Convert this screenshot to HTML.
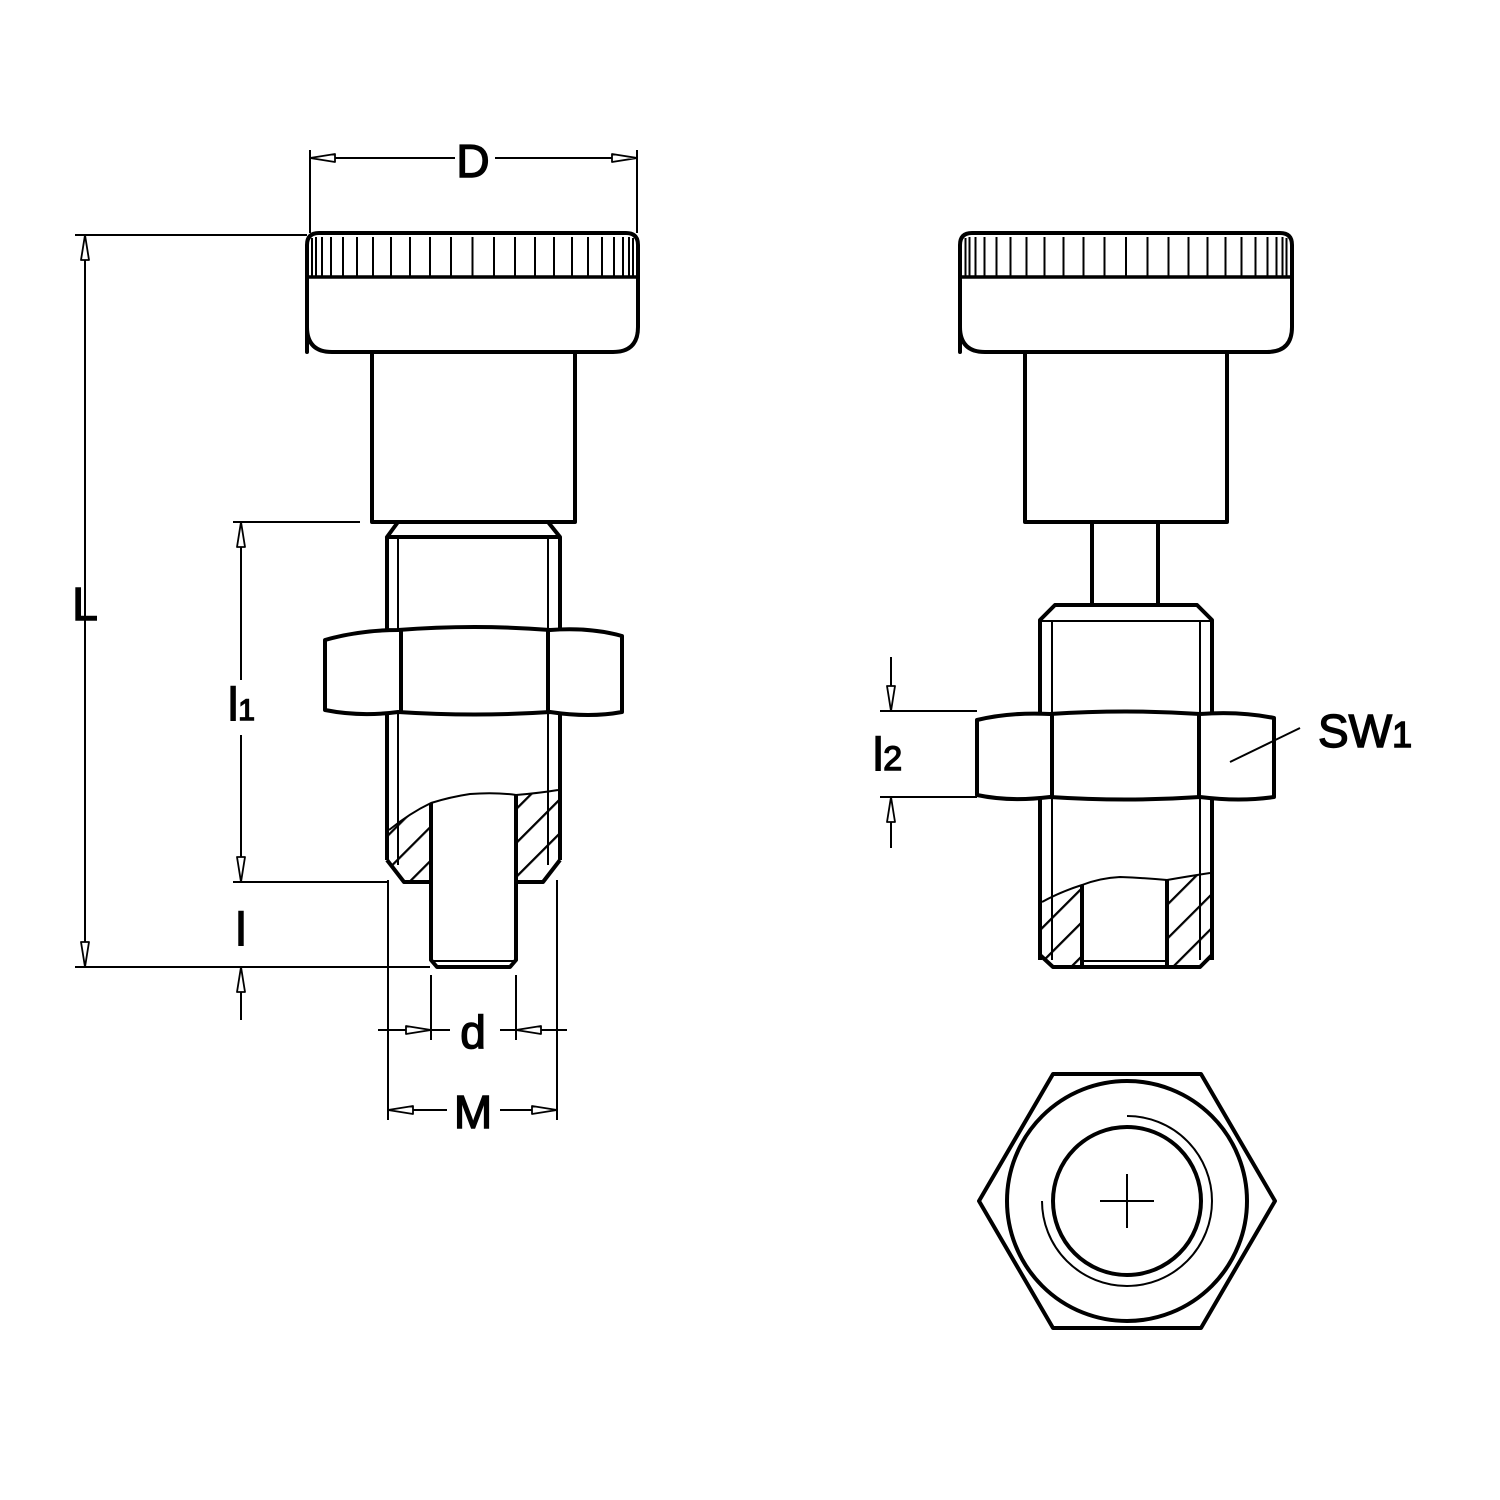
<!DOCTYPE html>
<html><head><meta charset="utf-8"><style>
html,body{margin:0;padding:0;background:#fff}
svg{display:block}
text{font-family:"Liberation Sans",sans-serif;fill:#000;stroke:#000;stroke-width:1.4}
</style></head><body>
<svg width="1500" height="1500" viewBox="0 0 1500 1500" xmlns="http://www.w3.org/2000/svg">
<defs>
<pattern id="h" width="24" height="24" patternUnits="userSpaceOnUse" patternTransform="rotate(45)">
<line x1="1" y1="0" x2="1" y2="24" stroke="#000" stroke-width="2.5"/>
</pattern>
</defs>
<g fill="none" stroke="#000" stroke-linejoin="round">
<!-- LEFT VIEW -->
<path d="M307 352 V245 Q307 233 319 233 H626 Q638 233 638 245 V327 Q638 352 613 352 H332 Q307 352 307 327 Z" stroke-width="4"/>
<line x1="309" y1="277" x2="636" y2="277" stroke-width="3.5"/>
<g stroke-width="2">
<path d="M312 238V277M316 237V277M322 237V277M331 237V277M343 237V277M357 237V277M373 237V277M391 237V277M410 237V277M430 237V277M451 237V277M472.5 237V277M494 237V277M515 237V277M535 237V277M554 237V277M572 237V277M588 237V277M602 237V277M614 237V277M623 237V277M629 237V277M633 238V277"/>
</g>
<rect x="372" y="352" width="203" height="170" stroke-width="4"/>
<path d="M398 522 L387 537 H560 L548 522" stroke-width="4"/>
<line x1="387" y1="537" x2="387" y2="860" stroke-width="4"/>
<line x1="560" y1="537" x2="560" y2="860" stroke-width="4"/>
<line x1="398" y1="537" x2="398" y2="865" stroke-width="2"/>
<line x1="548" y1="537" x2="548" y2="865" stroke-width="2"/>
<path d="M387 860 L404 882 H431 M516 882 H543 L560 860" stroke-width="4"/>
<path d="M389 830 Q410 813 431 803 V882 H404 L389 862 Z" fill="url(#h)" stroke="none"/>
<path d="M516 795 Q540 793 558 790 V862 L543 882 H516 Z" fill="url(#h)" stroke="none"/>
<path d="M389 830 Q410 813 431 803 Q450 797 470 794 Q495 792 516 795 Q540 793 558 790" stroke-width="2"/>
<path d="M431 803 V960 L437 967 H510 L516 960 V795" stroke-width="4"/>
<line x1="433" y1="961" x2="514" y2="961" stroke-width="2"/>
<path d="M325 640 Q360 630 398 630 Q475 624 550 630 Q590 627 622 636 V712 Q590 718 550 712 Q475 717 398 712 Q360 717 325 710 Z" fill="#fff" stroke-width="4"/>
<line x1="401" y1="630" x2="401" y2="712" stroke-width="4"/>
<line x1="548" y1="630" x2="548" y2="712" stroke-width="4"/>

<!-- RIGHT VIEW -->
<path d="M960 352 V245 Q960 233 972 233 H1280 Q1292 233 1292 245 V327 Q1292 352 1267 352 H985 Q960 352 960 327 Z" stroke-width="4"/>
<line x1="962" y1="277" x2="1290" y2="277" stroke-width="3.5"/>
<g stroke-width="2" transform="translate(653.5 0)">
<path d="M312 238V277M316 237V277M322 237V277M331 237V277M343 237V277M357 237V277M373 237V277M391 237V277M410 237V277M430 237V277M451 237V277M472.5 237V277M494 237V277M515 237V277M535 237V277M554 237V277M572 237V277M588 237V277M602 237V277M614 237V277M623 237V277M629 237V277M633 238V277"/>
</g>
<rect x="1025" y="352" width="202" height="170" stroke-width="4"/>
<path d="M1092 522 V605 M1158 522 V605" stroke-width="4"/>
<path d="M1040 960 V620 L1055 605 H1197 L1212 620 V960" stroke-width="4"/>
<line x1="1040" y1="621" x2="1212" y2="621" stroke-width="2"/>
<line x1="1052" y1="621" x2="1052" y2="960" stroke-width="2"/>
<line x1="1200" y1="621" x2="1200" y2="960" stroke-width="2"/>
<path d="M1040 955 L1053 967 H1200 L1212 955" stroke-width="4"/>
<path d="M1042 902 Q1060 892 1082 885 V967 H1053 L1042 956 Z" fill="url(#h)" stroke="none"/>
<path d="M1167 880 Q1190 876 1210 873 V955 L1200 967 H1167 Z" fill="url(#h)" stroke="none"/>
<path d="M1042 902 Q1060 892 1082 885 Q1100 878 1120 877 Q1145 878 1167 880 Q1190 876 1210 873" stroke-width="2"/>
<path d="M1082 885 V967 M1167 880 V967" stroke-width="4"/>
<line x1="1084" y1="961" x2="1165" y2="961" stroke-width="2"/>
<path d="M977 720 Q1010 712 1050 714 Q1126 709 1200 714 Q1240 711 1274 718 V797 Q1240 802 1200 797 Q1126 802 1050 797 Q1010 802 977 795 Z" fill="#fff" stroke-width="4"/>
<line x1="1052" y1="714" x2="1052" y2="797" stroke-width="4"/>
<line x1="1199" y1="714" x2="1199" y2="797" stroke-width="4"/>

<!-- HEX VIEW -->
<polygon points="1053,1074 1201,1074 1275,1201 1201,1328 1053,1328 979,1201" stroke-width="4"/>
<circle cx="1127" cy="1201" r="120" stroke-width="4"/>
<circle cx="1127" cy="1201" r="74" stroke-width="4"/>
<path d="M1127 1116 A85 85 0 1 1 1042 1201" stroke-width="2"/>
<path d="M1100 1201 H1154 M1127 1174 V1228" stroke-width="2"/>

<!-- DIMENSIONS -->
<g stroke-width="2">
<path d="M310 150 V233 M637 150 V233"/>
<path d="M310 158 H455 M495 158 H637"/>
<path d="M75 235 H307 M75 967 H430 M85 235 V967"/>
<path d="M233 522 H360 M233 882 H388 M241 522 V680 M241 735 V882 M241 967 V1020"/>
<path d="M388 880 V1120 M557 880 V1120 M431 975 V1040 M516 975 V1040"/>
<path d="M378 1030 H450 M500 1030 H567 M388 1110 H447 M500 1110 H557"/>
<path d="M880 711 H977 M880 797 H977 M891 657 V711 M891 797 V848"/>
<path d="M1230 762 L1300 728"/>
</g>
<g stroke-width="1.8" fill="#fff">
<path d="M310 158 L335 154 V162 Z M637 158 L612 154 V162 Z"/>
<path d="M85 235 L81 260 H89 Z M85 967 L81 942 H89 Z"/>
<path d="M241 522 L237 547 H245 Z M241 882 L237 857 H245 Z"/>
<path d="M241 967 L237 992 H245 Z"/>
<path d="M431 1030 L406 1026 V1034 Z M516 1030 L541 1026 V1034 Z"/>
<path d="M388 1110 L413 1106 V1114 Z M557 1110 L532 1106 V1114 Z"/>
<path d="M891 711 L887 686 H895 Z M891 797 L887 822 H895 Z"/>
</g>
</g>
<g font-size="46">
<text x="473" y="177" text-anchor="middle">D</text>
<text x="85" y="620" text-anchor="middle">L</text>
<text x="228" y="720">l<tspan font-size="30">1</tspan></text>
<text x="241" y="945" text-anchor="middle">l</text>
<text x="473" y="1048" text-anchor="middle">d</text>
<text x="473" y="1128" text-anchor="middle">M</text>
<text x="873" y="770">l<tspan font-size="34">2</tspan></text>
<text x="1318" y="747">SW<tspan font-size="36">1</tspan></text>
</g>
</svg>
</body></html>
